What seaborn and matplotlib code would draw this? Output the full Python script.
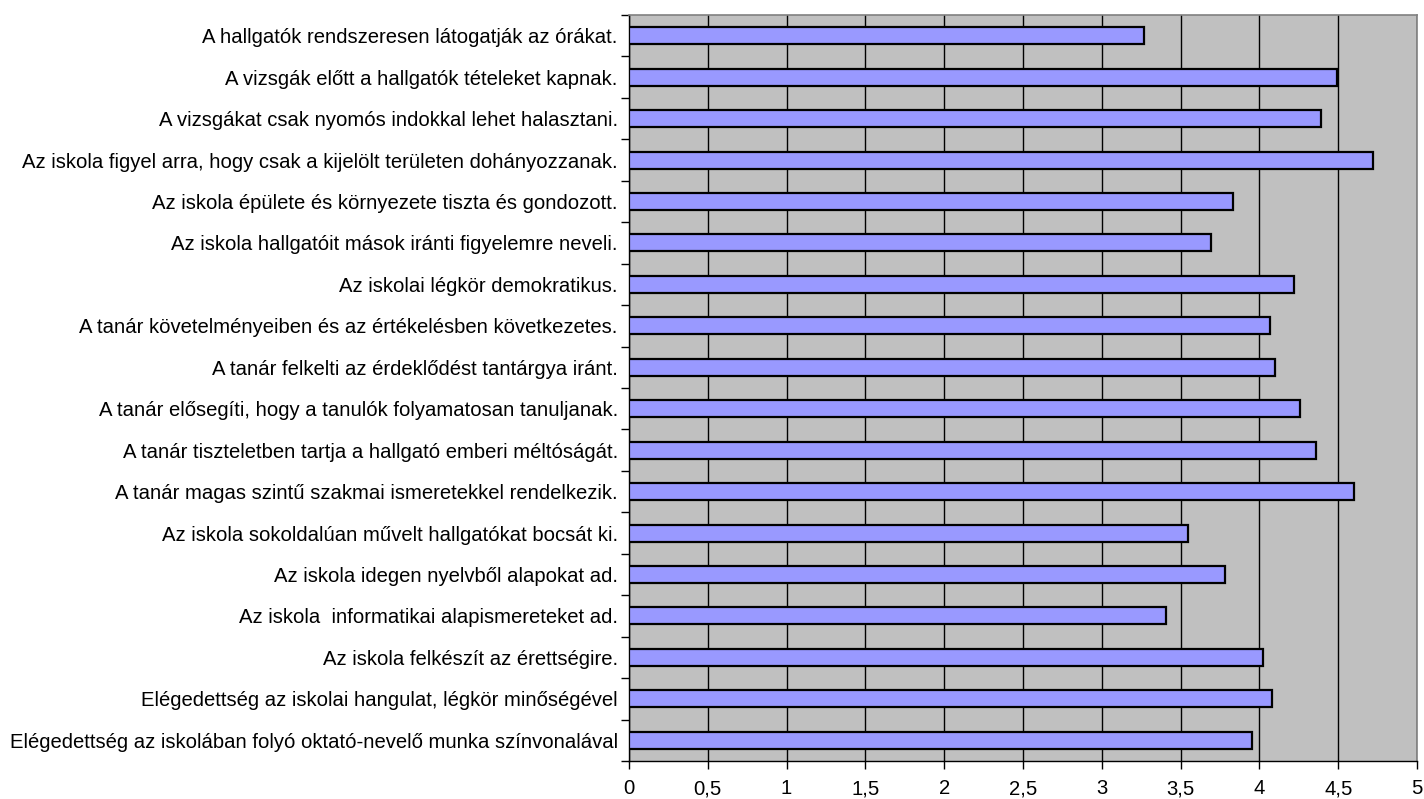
import pandas as pd
import numpy as np
import matplotlib
matplotlib.use("Agg")
import matplotlib.pyplot as plt
import seaborn as sns
from matplotlib.ticker import FuncFormatter, MultipleLocator, FixedLocator

# Statements (top to bottom as in the chart)
statements = [
    "A hallgatók rendszeresen látogatják az órákat.",
    "A vizsgák előtt a hallgatók tételeket kapnak.",
    "A vizsgákat csak nyomós indokkal lehet halasztani.",
    "Az iskola figyel arra, hogy csak a kijelölt területen dohányozzanak.",
    "Az iskola épülete és környezete tiszta és gondozott.",
    "Az iskola hallgatóit mások iránti figyelemre neveli.",
    "Az iskolai légkör demokratikus.",
    "A tanár követelményeiben és az értékelésben következetes.",
    "A tanár felkelti az érdeklődést tantárgya iránt.",
    "A tanár elősegíti, hogy a tanulók folyamatosan tanuljanak.",
    "A tanár tiszteletben tartja a hallgató emberi méltóságát.",
    "A tanár magas szintű szakmai ismeretekkel rendelkezik.",
    "Az iskola sokoldalúan művelt hallgatókat bocsát ki.",
    "Az iskola idegen nyelvből alapokat ad.",
    "Az iskola  informatikai alapismereteket ad.",
    "Az iskola felkészít az érettségire.",
    "Elégedettség az iskolai hangulat, légkör minőségével",
    "Elégedettség az iskolában folyó oktató-nevelő munka színvonalával",
]
scores = [3.27, 4.49, 4.39, 4.72, 3.83, 3.69, 4.22, 4.07, 4.10,
          4.26, 4.36, 4.60, 3.55, 3.78, 3.41, 4.02, 4.08, 3.95]

df = pd.DataFrame({"statement": statements, "score": scores})

sns.set_style("white")
plt.rcParams['font.family'] = ['Liberation Sans', 'DejaVu Sans']

fig = plt.figure(figsize=(14.24, 7.99), dpi=100)
ax = fig.add_axes([0.4417, 0.0476, 0.5534, 0.9336])
ax.set_facecolor("#C0C0C0")

sns.barplot(data=df, y="statement", x="score", orient="h", order=statements,
            color="#9999FF", edgecolor="black", linewidth=1.6, width=0.41,
            saturation=1, ax=ax, zorder=3)

ax.set_xlim(0, 5)
ax.set_ylim(len(statements) - 0.5, -0.5)
ax.xaxis.set_major_locator(MultipleLocator(0.5))
ax.xaxis.set_major_formatter(FuncFormatter(lambda v, p: ("%g" % v).replace(".", ",")))
ax.grid(axis="x", color="black", linewidth=1.0, zorder=1)
ax.set_axisbelow(True)

# y tick marks at category boundaries
ax.yaxis.set_minor_locator(FixedLocator(np.arange(-0.5, len(statements), 1)))
ax.tick_params(axis="y", which="major", length=0, labelsize=14.6, pad=8,
               labelcolor="black")
ax.tick_params(axis="y", which="minor", length=6, width=1, color="black", left=True)
ax.tick_params(axis="x", which="major", length=6, width=1, color="black", bottom=True,
               labelsize=14.6, pad=7, labelcolor="black")

ax.set_xlabel("")
ax.set_ylabel("")
for s in ["left", "bottom"]:
    ax.spines[s].set_color("black")
    ax.spines[s].set_linewidth(1)
for s in ["top", "right"]:
    ax.spines[s].set_color("#808080")
    ax.spines[s].set_linewidth(1.2)

fig.savefig("out.png", dpi=100)
